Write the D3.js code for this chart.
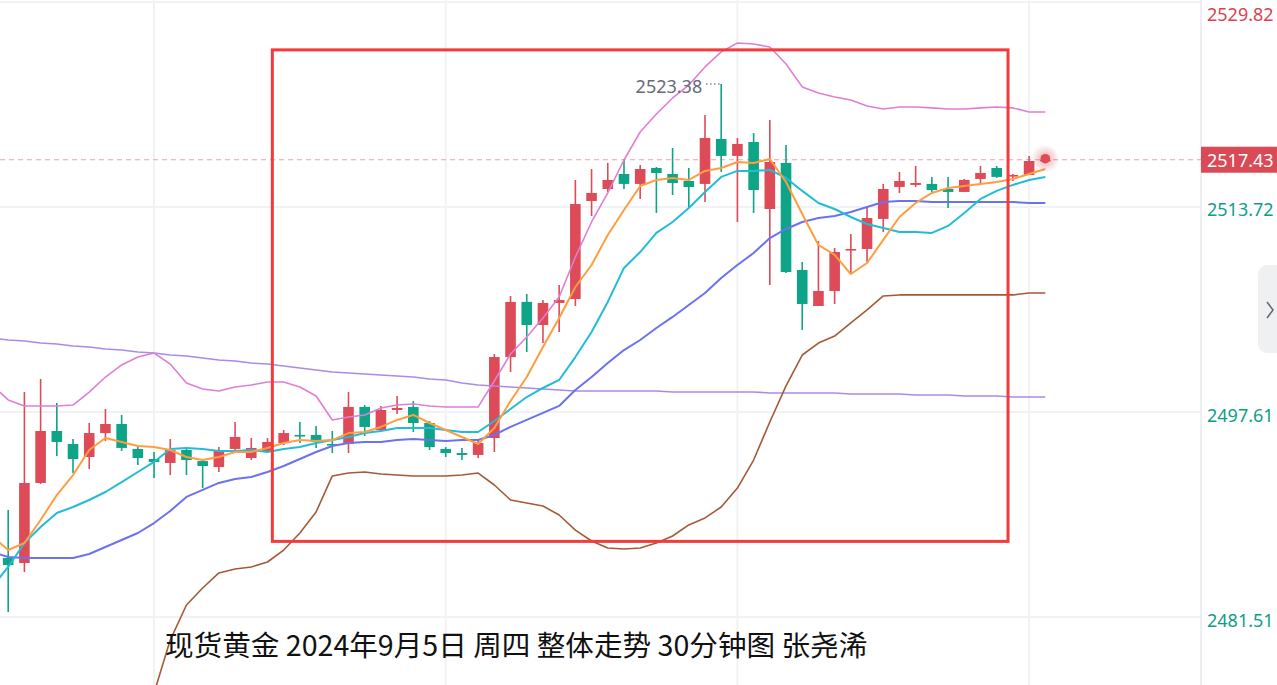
<!DOCTYPE html>
<html>
<head>
<meta charset="utf-8">
<script src="https://cdn.jsdelivr.net/npm/d3@7"></script>
<style>
html,body{margin:0;padding:0;background:#fff;overflow:hidden;}
svg{display:block;}
</style>
</head>
<body>
<svg id="chart" width="1277" height="685"></svg>
<script>
// ---------- DATA (30-minute candles, XAU spot) ----------
const opens  = [2486.14,2485.75,2492.04,2496.12,2495.10,2494.08,2495.96,2496.67,2494.71,2493.92,2493.61,2494.63,2493.76,2493.29,2494.71,2494.00,2494.55,2495.18,2495.81,2495.81,2495.10,2495.10,2498.01,2496.20,2497.77,2498.01,2496.75,2494.71,2494.39,2494.24,2495.57,2501.93,2506.26,2504.45,2506.18,2506.49,2514.19,2515.13,2516.31,2515.53,2516.78,2516.31,2515.76,2515.53,2519.06,2517.73,2518.82,2513.56,2517.18,2508.77,2505.94,2507.12,2510.34,2510.42,2512.78,2515.29,2515.45,2515.53,2515.13,2514.90,2515.92,2516.78,2516.15,2516.23,2517.33];
const highs  = [2489.91,2499.18,2500.21,2498.32,2495.49,2496.75,2497.85,2497.38,2494.86,2494.47,2495.49,2494.71,2493.84,2494.86,2496.83,2495.57,2495.57,2496.20,2496.83,2496.51,2496.12,2499.18,2498.16,2498.09,2498.87,2498.48,2496.91,2494.86,2494.79,2495.41,2502.17,2506.73,2506.88,2506.41,2507.59,2515.84,2516.70,2517.18,2517.49,2517.02,2516.86,2518.35,2516.78,2520.95,2523.38,2519.14,2519.53,2520.55,2518.59,2509.40,2511.05,2510.50,2511.60,2513.64,2515.53,2516.47,2516.94,2516.08,2516.08,2515.92,2516.94,2516.94,2516.31,2517.73,2517.50];
const lows   = [2481.90,2485.04,2491.96,2494.16,2492.82,2493.14,2495.34,2494.55,2493.45,2492.43,2492.66,2492.66,2491.64,2492.90,2494.63,2493.84,2494.47,2495.02,2495.18,2494.79,2494.39,2494.39,2495.73,2496.12,2497.46,2496.04,2494.63,2494.08,2493.84,2494.00,2494.47,2500.76,2502.33,2503.03,2503.90,2505.94,2513.01,2514.90,2515.13,2514.35,2513.25,2514.66,2513.64,2514.11,2516.47,2512.54,2513.25,2507.59,2508.53,2504.06,2505.94,2506.10,2508.53,2509.40,2511.75,2514.82,2515.29,2514.90,2513.64,2514.90,2515.60,2516.00,2515.76,2516.23,2517.30];
const closes = [2485.59,2492.04,2496.12,2495.26,2493.92,2495.96,2496.67,2494.79,2494.00,2493.69,2494.63,2493.84,2493.37,2494.63,2495.65,2494.79,2495.26,2495.96,2495.73,2495.26,2495.02,2498.01,2496.44,2497.77,2497.93,2496.75,2494.86,2494.39,2494.24,2495.18,2501.93,2506.26,2504.45,2506.18,2506.41,2513.95,2514.82,2515.84,2515.53,2516.70,2516.39,2515.60,2515.29,2519.14,2517.73,2518.67,2515.05,2517.25,2508.61,2506.10,2507.12,2510.18,2510.42,2512.85,2515.13,2515.76,2515.60,2515.05,2514.90,2515.84,2516.39,2516.08,2516.23,2517.33,2517.43];

// indicator lines: first value belongs to the bar just left of the view (index -1)
const ma5    = [2487.87,2486.77,2487.32,2489.13,2491.09,2492.66,2494.63,2495.57,2495.26,2494.94,2494.86,2494.63,2494.08,2493.84,2494.08,2494.47,2494.47,2494.79,2495.18,2495.41,2495.34,2495.41,2495.96,2496.04,2496.44,2496.99,2497.38,2496.75,2496.20,2495.65,2495.10,2496.36,2498.48,2500.36,2502.72,2505.00,2507.43,2509.16,2511.52,2513.48,2515.37,2515.84,2516.00,2515.84,2516.55,2516.78,2517.25,2517.18,2517.49,2515.68,2513.17,2510.73,2509.95,2508.45,2509.32,2511.13,2512.93,2514.03,2514.82,2515.21,2515.37,2515.53,2515.68,2515.92,2516.31,2516.70];
const ma10   = [2483.86,2485.44,2487.32,2488.58,2489.68,2490.15,2490.70,2491.33,2492.11,2492.90,2493.69,2494.71,2494.79,2494.71,2494.55,2494.55,2494.63,2494.47,2494.71,2494.86,2495.18,2495.41,2495.65,2495.96,2496.12,2496.36,2496.36,2496.36,2496.20,2496.04,2496.04,2496.91,2497.85,2498.79,2499.50,2500.13,2501.93,2503.90,2506.26,2508.93,2510.18,2511.68,2512.54,2513.64,2514.90,2516.08,2516.55,2516.55,2516.63,2516.00,2514.98,2514.03,2513.56,2512.93,2512.38,2512.07,2511.75,2511.75,2511.68,2512.23,2513.25,2514.35,2514.98,2515.45,2515.84,2516.08];
const bollMid = [2486.62,2486.22,2486.14,2486.14,2486.14,2486.14,2486.46,2487.01,2487.56,2488.11,2488.89,2489.84,2490.94,2491.49,2492.04,2492.35,2492.51,2492.90,2493.37,2493.92,2494.47,2494.94,2495.18,2495.26,2495.26,2495.41,2495.49,2495.41,2495.34,2495.41,2495.41,2495.81,2496.44,2496.99,2497.54,2498.09,2499.34,2500.36,2501.46,2502.48,2503.27,2504.21,2505.08,2506.02,2506.96,2508.14,2509.16,2510.10,2511.28,2511.99,2512.54,2512.85,2513.01,2513.33,2513.72,2514.11,2514.19,2514.19,2514.11,2514.11,2514.11,2514.11,2514.11,2514.11,2514.03,2514.03];
const bollUp = [2499.73,2498.56,2498.09,2498.09,2498.09,2498.16,2499.18,2500.36,2501.31,2501.93,2502.25,2501.38,2499.89,2499.42,2499.26,2499.58,2499.73,2499.97,2499.97,2499.58,2498.87,2496.99,2497.22,2497.38,2497.93,2498.16,2498.24,2498.09,2498.01,2498.01,2498.01,2500.05,2502.17,2503.51,2505.00,2506.65,2509.79,2512.54,2514.82,2517.41,2519.61,2521.02,2522.28,2523.30,2524.72,2525.90,2526.60,2526.52,2526.29,2524.95,2523.15,2522.67,2522.36,2522.12,2521.65,2521.42,2521.57,2521.57,2521.50,2521.42,2521.42,2521.50,2521.57,2521.50,2521.18,2521.18];
const bollLow = [2473.50,2473.89,2474.20,2474.20,2474.20,2474.12,2473.73,2473.65,2473.81,2474.28,2475.54,2479.70,2482.45,2483.79,2484.97,2485.28,2485.44,2485.83,2486.77,2488.11,2489.76,2492.59,2492.82,2492.90,2492.74,2492.66,2492.59,2492.59,2492.59,2492.66,2492.82,2491.88,2490.70,2490.46,2490.23,2489.52,2488.34,2487.48,2486.93,2486.85,2486.93,2487.32,2487.87,2488.74,2489.29,2490.15,2491.64,2493.84,2496.83,2499.66,2502.09,2503.03,2503.58,2504.61,2505.63,2506.73,2506.81,2506.81,2506.81,2506.81,2506.81,2506.81,2506.81,2506.81,2506.96,2506.96];
const maLong = [2503.43,2503.27,2503.19,2503.03,2502.96,2502.80,2502.72,2502.56,2502.48,2502.33,2502.25,2502.09,2502.01,2501.86,2501.70,2501.62,2501.46,2501.38,2501.23,2501.07,2500.91,2500.76,2500.68,2500.60,2500.52,2500.44,2500.36,2500.21,2500.13,2499.89,2499.73,2499.66,2499.58,2499.50,2499.42,2499.34,2499.26,2499.26,2499.26,2499.26,2499.26,2499.26,2499.18,2499.18,2499.18,2499.18,2499.18,2499.18,2499.11,2499.11,2499.11,2499.11,2499.11,2499.03,2499.03,2499.03,2499.03,2498.95,2498.95,2498.95,2498.87,2498.87,2498.87,2498.79,2498.79,2498.79];

const yTicks = [2529.82, 2513.72, 2497.61, 2481.51];
const xGridBars = [9, 27, 45, 63];
const lastPrice = 2517.43;
const highMark = {bar: 44, value: 2523.38};
const boxBars = [16.3, 61.7];          // highlighted region (bar positions)
const boxPrices = [2526.06, 2487.45];
const title = "现货黄金 2024年9月5日 周四 整体走势 30分钟图 张尧浠";

// ---------- STYLE ----------
const UP = "#dc4b57", DOWN = "#0da487";
const GRID = "#f1f2f5";

const svg = d3.select("#chart");
const W = 1277, H = 685;
const plotRight = 1201;

const x = d3.scaleLinear().domain([0, 64]).range([8.2, 1045.3]);
const y = d3.scaleLinear().domain([2481.51, 2529.82]).range([617, 2]);

// grid
const g = svg.append("g");
g.selectAll("line.hg").data(yTicks).join("line")
  .attr("x1", 0).attr("x2", plotRight)
  .attr("y1", d => y(d)).attr("y2", d => y(d))
  .attr("stroke", GRID).attr("stroke-width", 2);
g.selectAll("line.vg").data(xGridBars).join("line")
  .attr("x1", d => x(d)).attr("x2", d => x(d))
  .attr("y1", 0).attr("y2", H)
  .attr("stroke", GRID).attr("stroke-width", 2);
g.append("line").attr("x1", plotRight).attr("x2", plotRight).attr("y1", 0).attr("y2", H)
  .attr("stroke", "#eceef2").attr("stroke-width", 2);

// last price dashed line
svg.append("line")
  .attr("x1", 0).attr("x2", plotRight)
  .attr("y1", y(lastPrice)).attr("y2", y(lastPrice))
  .attr("stroke", "#eba3aa").attr("stroke-width", 1.2)
  .attr("stroke-dasharray", "5,4");

// candles
const idx = d3.range(closes.length);
const cg = svg.append("g");
const bw = 10.6;
cg.selectAll("line.wick").data(idx).join("line")
  .attr("x1", i => x(i)).attr("x2", i => x(i))
  .attr("y1", i => y(highs[i])).attr("y2", i => y(lows[i]))
  .attr("stroke", i => closes[i] >= opens[i] ? UP : DOWN)
  .attr("stroke-width", 1.6);
cg.selectAll("rect.body").data(idx).join("rect")
  .attr("x", i => x(i) - bw / 2)
  .attr("width", bw)
  .attr("y", i => y(Math.max(opens[i], closes[i])))
  .attr("height", i => Math.max(1.6, Math.abs(y(opens[i]) - y(closes[i]))))
  .attr("fill", i => closes[i] >= opens[i] ? UP : DOWN);

// indicator lines
const lineGen = d3.line().x((d, k) => x(k - 1)).y(d => y(d));
const series = [
  {v: maLong, c: "#a98be8", w: 1.6},
  {v: bollUp, c: "#df7fd3", w: 1.6},
  {v: bollLow, c: "#a55a36", w: 1.6},
  {v: bollMid, c: "#6c72ef", w: 2},
  {v: ma10, c: "#22bcd8", w: 2},
  {v: ma5, c: "#ff9d3f", w: 2}
];
svg.append("g").selectAll("path").data(series).join("path")
  .attr("d", s => lineGen(s.v))
  .attr("fill", "none")
  .attr("stroke", s => s.c)
  .attr("stroke-width", s => s.w)
  .attr("stroke-linejoin", "round");

// high annotation
const hx = x(highMark.bar), hy = y(highMark.value);
svg.append("line")
  .attr("x1", hx - 15).attr("x2", hx - 1).attr("y1", hy).attr("y2", hy)
  .attr("stroke", "#6b7080").attr("stroke-width", 1.3).attr("stroke-dasharray", "1.3,2.7");
svg.append("text")
  .attr("x", hx - 19).attr("y", hy + 2)
  .attr("text-anchor", "end").attr("dominant-baseline", "central")
  .attr("font-family", "Noto Sans, DejaVu Sans, sans-serif")
  .attr("font-size", 18).attr("fill", "#656a7b")
  .text(highMark.value.toFixed(2));

// pulsing dot
const defs = svg.append("defs");
const rg = defs.append("radialGradient").attr("id", "halo");
rg.append("stop").attr("offset", "0%").attr("stop-color", "#e0505c").attr("stop-opacity", 0.5);
rg.append("stop").attr("offset", "100%").attr("stop-color", "#e0505c").attr("stop-opacity", 0.0);
svg.append("circle").attr("cx", x(64)).attr("cy", y(lastPrice) - 1).attr("r", 14).attr("fill", "url(#halo)");
svg.append("circle").attr("cx", x(64)).attr("cy", y(lastPrice) - 1).attr("r", 4.8).attr("fill", "#de4a56");

// highlight box
svg.append("rect")
  .attr("x", x(boxBars[0])).attr("y", y(boxPrices[0]))
  .attr("width", x(boxBars[1]) - x(boxBars[0]))
  .attr("height", y(boxPrices[1]) - y(boxPrices[0]))
  .attr("fill", "none").attr("stroke", "#f43a3a").attr("stroke-width", 3);

// right axis labels
const ax = svg.append("g").attr("font-family", "Noto Sans, DejaVu Sans, sans-serif").attr("font-size", 18);
ax.selectAll("text").data(yTicks).join("text")
  .attr("x", 1207)
  .attr("y", (d, i) => i === 0 ? 14 : y(d) + 2.5)
  .attr("dominant-baseline", "central")
  .attr("fill", d => d > lastPrice ? "#d9434f" : "#109d86")
  .text(d => d.toFixed(2));

// last price tag
svg.append("rect").attr("x", plotRight).attr("y", y(lastPrice) - 13).attr("width", 77).attr("height", 26)
  .attr("fill", "#d94a56");
svg.append("text").attr("x", 1207).attr("y", y(lastPrice) + 0.5)
  .attr("dominant-baseline", "central")
  .attr("font-family", "Noto Sans, DejaVu Sans, sans-serif").attr("font-size", 18)
  .attr("fill", "#fff").text(lastPrice.toFixed(2));

// scroll handle at right edge
svg.append("rect").attr("x", 1258).attr("y", 265).attr("width", 30).attr("height", 88).attr("rx", 9)
  .attr("fill", "#eff0f2");
svg.append("path").attr("d", "M1267,302 L1273,310 L1267,318")
  .attr("fill", "none").attr("stroke", "#666b75").attr("stroke-width", 1.6);

// title
svg.append("text")
  .attr("x", 165).attr("y", 643)
  .attr("dominant-baseline", "central")
  .attr("font-family", "Noto Sans CJK SC, sans-serif")
  .attr("font-size", 28.6)
  .attr("fill", "#111")
  .text(title);
</script>
</body>
</html>
